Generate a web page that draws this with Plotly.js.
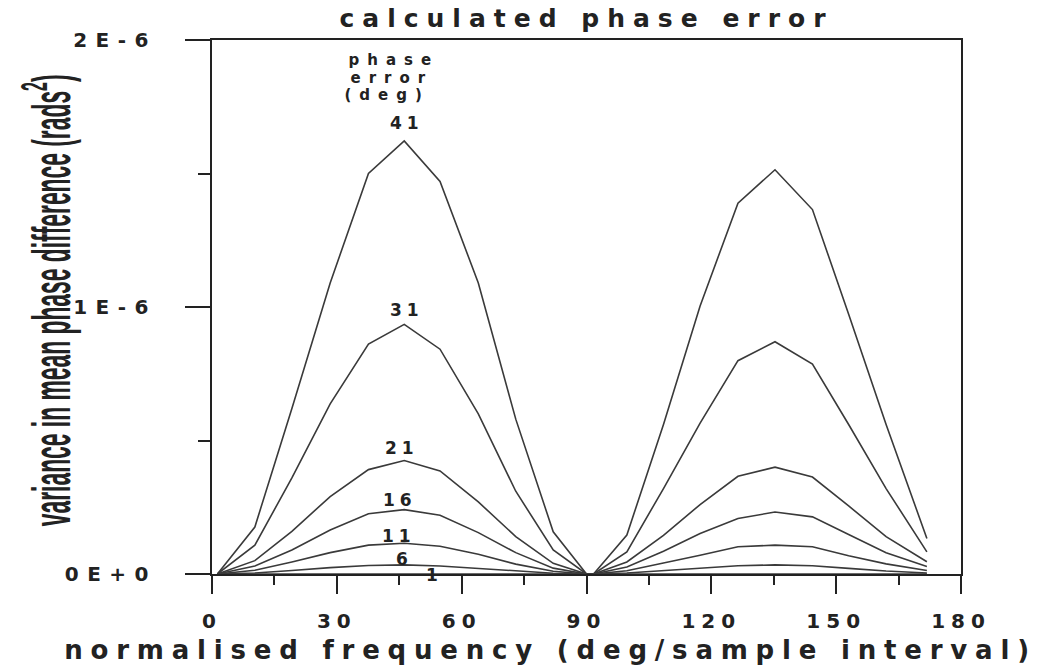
<!DOCTYPE html>
<html><head><meta charset="utf-8">
<script src="https://cdn.plot.ly/plotly-3.0.1.min.js"></script>
<style>
html,body{margin:0;padding:0;background:#fff;}
#chart{width:1037px;height:665px;}
.gtitle{letter-spacing:8px;}
.xtick text{letter-spacing:6px;}
.ytick text{letter-spacing:8.5px;}
.annotation-text{letter-spacing:5px;}
g.annotation[data-index="0"] text{letter-spacing:0px;}
g.annotation[data-index="1"] text{letter-spacing:7.8px;}
g.annotation[data-index="2"] text,g.annotation[data-index="3"] text,g.annotation[data-index="4"] text{letter-spacing:8px;}
</style>
</head><body><div id="chart"></div>
<script>
// normalised frequency (deg/sample interval)
const freq = [1.3, 10.3, 19.2, 28.4, 37.6, 46.2, 54.8, 64.0, 73.0, 82.0, 90.0,
              91.7, 99.7, 108.5, 117.3, 126.4, 135.3, 144.3, 153.0, 162.0, 171.8];
// variance in mean phase difference, in units of 1E-6 rads^2
const UNIT = 1e-6;
const err41 = [0, 0.176, 0.62, 1.09, 1.50, 1.622, 1.47, 1.09, 0.58, 0.158, 0,
               0, 0.146, 0.56, 1.004, 1.389, 1.514, 1.365, 0.973, 0.56, 0.133];
const err31 = [0, 0.108, 0.36, 0.637, 0.861, 0.935, 0.842, 0.60, 0.31, 0.090, 0,
               0, 0.083, 0.32, 0.565, 0.799, 0.870, 0.786, 0.56, 0.32, 0.083];
const err21 = [0, 0.05, 0.16, 0.29, 0.391, 0.425, 0.386, 0.27, 0.14, 0.04, 0,
               0, 0.045, 0.145, 0.26, 0.366, 0.400, 0.363, 0.255, 0.14, 0.046];
const err16 = [0, 0.03, 0.09, 0.165, 0.226, 0.241, 0.220, 0.155, 0.08, 0.022, 0,
               0, 0.026, 0.085, 0.152, 0.208, 0.232, 0.214, 0.148, 0.08, 0.028];
const err11 = [0, 0.014, 0.045, 0.08, 0.108, 0.115, 0.104, 0.074, 0.037, 0.01, 0,
               0, 0.012, 0.04, 0.07, 0.102, 0.108, 0.102, 0.068, 0.038, 0.013];
const err6  = [0, 0.004, 0.013, 0.024, 0.032, 0.034, 0.030, 0.021, 0.011, 0.003, 0,
               0, 0.004, 0.012, 0.022, 0.031, 0.034, 0.031, 0.021, 0.011, 0.004];
const err1  = [0, 0.0001, 0.0004, 0.0007, 0.0009, 0.001, 0.0009, 0.0006, 0.0003, 0.0001, 0,
               0, 0.0001, 0.0003, 0.0006, 0.0009, 0.001, 0.0009, 0.0006, 0.0003, 0.0001];
const seriesNames = ['41', '31', '21', '16', '11', '6', '1'];
const seriesData = [err41, err31, err21, err16, err11, err6, err1];

const xTickVals = [0, 30, 60, 90, 120, 150, 180];
const yTickVals = [0, 1e-6, 2e-6];
const yTickText = ['0E+0', '1E-6', '2E-6'];
const yMinorVals = [0.5e-6, 1.5e-6];
const headerLines = ['phase', 'error', '(deg)'];

const W = 1037, H = 665;
const M = {l: 212, r: 76, t: 40, b: 91};
const PW = W - M.l - M.r, PH = H - M.t - M.b;
function px(xp) { return (xp - M.l) / PW; }
function py(yp) { return (H - M.b - yp) / PH; }

const INK = '#222222';
const traces = seriesData.map(function (arr, i) {
  return {
    type: 'scatter', mode: 'lines', name: seriesNames[i],
    x: freq, y: arr.map(function (v) { return v * UNIT; }),
    line: {color: '#3a3a3a', width: 1.6}, hoverinfo: 'skip'
  };
});

const labelFont = {family: 'DejaVu Sans', size: 17, color: INK, weight: 'bold'};
const peakIdx = 5;
// label offsets (pixels) relative to each curve's first peak
const labelShift = [[3, 18], [3, 14], [-2, 12.5], [-4, 10], [-5, 7], [0, 6], [30, -1.5]];

const annotations = [];
annotations.push({
  text: 'variance in mean phase difference (rads<sup>2</sup>)',
  xref: 'paper', yref: 'paper', x: px(47), y: py(301),
  xanchor: 'center', yanchor: 'middle', textangle: -90, showarrow: false,
  font: {family: 'Liberation Sans', size: 54, color: INK, weight: 'bold'}
});
annotations.push({
  text: 'normalised frequency (deg/sample interval)',
  xref: 'paper', yref: 'paper', x: px(550), y: py(650),
  xanchor: 'center', yanchor: 'middle', showarrow: false,
  font: {family: 'DejaVu Sans', size: 26, color: INK, weight: 'bold'}
});
const headerPos = [[394, 60], [392, 77.5], [387, 95]];
headerLines.forEach(function (t, i) {
  annotations.push({
    text: t, xref: 'paper', yref: 'paper', x: px(headerPos[i][0]), y: py(headerPos[i][1]),
    xanchor: 'center', yanchor: 'middle', showarrow: false,
    font: {family: 'DejaVu Sans', size: 15, color: INK, weight: 'bold'}
  });
});
seriesNames.forEach(function (n, i) {
  annotations.push({
    text: n, x: freq[peakIdx], y: seriesData[i][peakIdx] * UNIT,
    xref: 'x', yref: 'y', xanchor: 'center', yanchor: 'middle', showarrow: false,
    xshift: labelShift[i][0], yshift: labelShift[i][1], font: labelFont
  });
});

const axisCommon = {
  showline: true, mirror: true, linecolor: INK, linewidth: 2,
  ticks: 'outside', tickwidth: 2, tickcolor: INK,
  showgrid: false, zeroline: false, fixedrange: true
};

const layout = {
  width: W, height: H,
  margin: {l: M.l, r: M.r, t: M.t, b: M.b, pad: 0},
  paper_bgcolor: '#fff', plot_bgcolor: '#fff', showlegend: false,
  font: {family: 'DejaVu Sans', color: INK},
  title: {
    text: 'calculated phase error', x: 0.5, xref: 'paper', xanchor: 'center',
    y: 1 - 18 / H, yref: 'container', yanchor: 'middle',
    font: {family: 'DejaVu Sans', size: 25, color: INK, weight: 'bold'}
  },
  xaxis: Object.assign({}, axisCommon, {
    range: [0, 180], tickmode: 'array', tickvals: xTickVals,
    ticklen: 18, ticklabelstandoff: 10,
    tickfont: {family: 'DejaVu Sans', size: 20, color: INK, weight: 'bold'},
    minor: {tickmode: 'linear', tick0: 0, dtick: 15, ticks: 'outside', ticklen: 9, tickwidth: 2, tickcolor: INK, showgrid: false}
  }),
  yaxis: Object.assign({}, axisCommon, {
    range: [0, 2e-6], tickmode: 'array', tickvals: yTickVals, ticktext: yTickText,
    ticklen: 25, ticklabelstandoff: 24,
    tickfont: {family: 'DejaVu Sans', size: 20, color: INK, weight: 'bold'},
    minor: {tickmode: 'array', tickvals: yMinorVals, ticks: 'outside', ticklen: 12, tickwidth: 2, tickcolor: INK, showgrid: false}
  }),
  annotations: annotations
};

Plotly.newPlot('chart', traces, layout, {staticPlot: true, displayModeBar: false}).then(function (gd) {
  // condense the tall, narrow y-axis title to its original length
  const t = gd.querySelector('g.annotation[data-index="0"] text.annotation-text');
  if (t) {
    const bb = t.getBBox();
    const cx = bb.x + bb.width / 2, cy = bb.y + bb.height / 2;
    const s = 452 / bb.width;
    const prev = t.getAttribute('transform') || '';
    t.setAttribute('transform', prev + ' translate(' + cx + ',' + cy + ') scale(' + s + ',1) translate(' + (-cx) + ',' + (-cy) + ')');
  }
});
</script></body></html>
